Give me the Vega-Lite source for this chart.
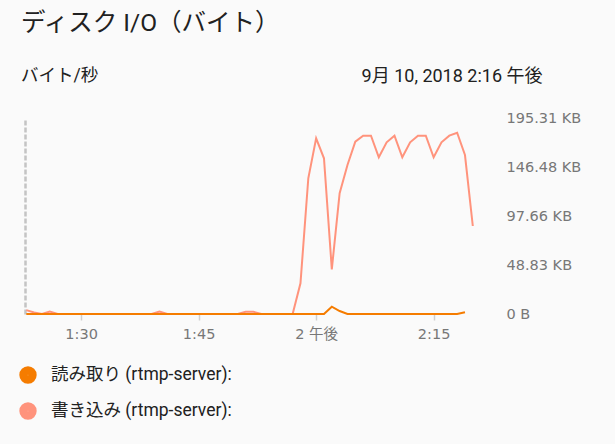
{
  "$schema": "https://vega.github.io/schema/vega-lite/v6.json",
  "width": 470,
  "height": 196,
  "autosize": "none",
  "padding": {"left": 25, "top": 118, "right": 120, "bottom": 130},
  "background": "#fafafa",
  "config": {
    "font": "Roboto, Noto Sans CJK JP",
    "view": {"stroke": null}
  },
  "title": {
    "text": "ディスク I/O（バイト）",
    "subtitle": "バイト/秒",
    "anchor": "start",
    "frame": "group",
    "dx": -4,
    "offset": -18,
    "fontSize": 24.5,
    "fontWeight": "normal",
    "color": "#212121",
    "subtitleFontSize": 17.5,
    "subtitleColor": "#212121",
    "subtitlePadding": 30
  },
  "data": {
    "values": [
      {"t": "2018-09-10T13:23:00", "s": "書き込み (rtmp-server):", "v": 4000},
      {"t": "2018-09-10T13:24:00", "s": "書き込み (rtmp-server):", "v": 1500},
      {"t": "2018-09-10T13:25:00", "s": "書き込み (rtmp-server):", "v": 0},
      {"t": "2018-09-10T13:26:00", "s": "書き込み (rtmp-server):", "v": 2500},
      {"t": "2018-09-10T13:27:00", "s": "書き込み (rtmp-server):", "v": 0},
      {"t": "2018-09-10T13:28:00", "s": "書き込み (rtmp-server):", "v": 0},
      {"t": "2018-09-10T13:29:00", "s": "書き込み (rtmp-server):", "v": 0},
      {"t": "2018-09-10T13:30:00", "s": "書き込み (rtmp-server):", "v": 0},
      {"t": "2018-09-10T13:31:00", "s": "書き込み (rtmp-server):", "v": 0},
      {"t": "2018-09-10T13:32:00", "s": "書き込み (rtmp-server):", "v": 0},
      {"t": "2018-09-10T13:33:00", "s": "書き込み (rtmp-server):", "v": 0},
      {"t": "2018-09-10T13:34:00", "s": "書き込み (rtmp-server):", "v": 0},
      {"t": "2018-09-10T13:35:00", "s": "書き込み (rtmp-server):", "v": 0},
      {"t": "2018-09-10T13:36:00", "s": "書き込み (rtmp-server):", "v": 0},
      {"t": "2018-09-10T13:37:00", "s": "書き込み (rtmp-server):", "v": 0},
      {"t": "2018-09-10T13:38:00", "s": "書き込み (rtmp-server):", "v": 0},
      {"t": "2018-09-10T13:39:00", "s": "書き込み (rtmp-server):", "v": 0},
      {"t": "2018-09-10T13:40:00", "s": "書き込み (rtmp-server):", "v": 2500},
      {"t": "2018-09-10T13:41:00", "s": "書き込み (rtmp-server):", "v": 0},
      {"t": "2018-09-10T13:42:00", "s": "書き込み (rtmp-server):", "v": 0},
      {"t": "2018-09-10T13:43:00", "s": "書き込み (rtmp-server):", "v": 0},
      {"t": "2018-09-10T13:44:00", "s": "書き込み (rtmp-server):", "v": 0},
      {"t": "2018-09-10T13:45:00", "s": "書き込み (rtmp-server):", "v": 0},
      {"t": "2018-09-10T13:46:00", "s": "書き込み (rtmp-server):", "v": 0},
      {"t": "2018-09-10T13:47:00", "s": "書き込み (rtmp-server):", "v": 0},
      {"t": "2018-09-10T13:48:00", "s": "書き込み (rtmp-server):", "v": 0},
      {"t": "2018-09-10T13:49:00", "s": "書き込み (rtmp-server):", "v": 0},
      {"t": "2018-09-10T13:50:00", "s": "書き込み (rtmp-server):", "v": 0},
      {"t": "2018-09-10T13:51:00", "s": "書き込み (rtmp-server):", "v": 2200},
      {"t": "2018-09-10T13:52:00", "s": "書き込み (rtmp-server):", "v": 2200},
      {"t": "2018-09-10T13:53:00", "s": "書き込み (rtmp-server):", "v": 0},
      {"t": "2018-09-10T13:54:00", "s": "書き込み (rtmp-server):", "v": 0},
      {"t": "2018-09-10T13:55:00", "s": "書き込み (rtmp-server):", "v": 0},
      {"t": "2018-09-10T13:56:00", "s": "書き込み (rtmp-server):", "v": 0},
      {"t": "2018-09-10T13:57:00", "s": "書き込み (rtmp-server):", "v": 0},
      {"t": "2018-09-10T13:58:00", "s": "書き込み (rtmp-server):", "v": 31300},
      {"t": "2018-09-10T13:59:00", "s": "書き込み (rtmp-server):", "v": 138500},
      {"t": "2018-09-10T14:00:00", "s": "書き込み (rtmp-server):", "v": 179300},
      {"t": "2018-09-10T14:01:00", "s": "書き込み (rtmp-server):", "v": 158900},
      {"t": "2018-09-10T14:02:00", "s": "書き込み (rtmp-server):", "v": 45600},
      {"t": "2018-09-10T14:03:00", "s": "書き込み (rtmp-server):", "v": 123200},
      {"t": "2018-09-10T14:04:00", "s": "書き込み (rtmp-server):", "v": 152000},
      {"t": "2018-09-10T14:05:00", "s": "書き込み (rtmp-server):", "v": 175800},
      {"t": "2018-09-10T14:06:00", "s": "書き込み (rtmp-server):", "v": 182000},
      {"t": "2018-09-10T14:07:00", "s": "書き込み (rtmp-server):", "v": 182000},
      {"t": "2018-09-10T14:08:00", "s": "書き込み (rtmp-server):", "v": 159900},
      {"t": "2018-09-10T14:09:00", "s": "書き込み (rtmp-server):", "v": 175200},
      {"t": "2018-09-10T14:10:00", "s": "書き込み (rtmp-server):", "v": 182000},
      {"t": "2018-09-10T14:11:00", "s": "書き込み (rtmp-server):", "v": 159900},
      {"t": "2018-09-10T14:12:00", "s": "書き込み (rtmp-server):", "v": 175200},
      {"t": "2018-09-10T14:13:00", "s": "書き込み (rtmp-server):", "v": 182000},
      {"t": "2018-09-10T14:14:00", "s": "書き込み (rtmp-server):", "v": 182000},
      {"t": "2018-09-10T14:15:00", "s": "書き込み (rtmp-server):", "v": 159900},
      {"t": "2018-09-10T14:16:00", "s": "書き込み (rtmp-server):", "v": 175200},
      {"t": "2018-09-10T14:17:00", "s": "書き込み (rtmp-server):", "v": 182000},
      {"t": "2018-09-10T14:18:00", "s": "書き込み (rtmp-server):", "v": 185000},
      {"t": "2018-09-10T14:19:00", "s": "書き込み (rtmp-server):", "v": 162200},
      {"t": "2018-09-10T14:20:00", "s": "書き込み (rtmp-server):", "v": 89800},
      {"t": "2018-09-10T13:23:00", "s": "読み取り (rtmp-server):", "v": 0},
      {"t": "2018-09-10T13:24:00", "s": "読み取り (rtmp-server):", "v": 0},
      {"t": "2018-09-10T13:25:00", "s": "読み取り (rtmp-server):", "v": 0},
      {"t": "2018-09-10T13:26:00", "s": "読み取り (rtmp-server):", "v": 0},
      {"t": "2018-09-10T13:27:00", "s": "読み取り (rtmp-server):", "v": 0},
      {"t": "2018-09-10T13:28:00", "s": "読み取り (rtmp-server):", "v": 0},
      {"t": "2018-09-10T13:29:00", "s": "読み取り (rtmp-server):", "v": 0},
      {"t": "2018-09-10T13:30:00", "s": "読み取り (rtmp-server):", "v": 0},
      {"t": "2018-09-10T13:31:00", "s": "読み取り (rtmp-server):", "v": 0},
      {"t": "2018-09-10T13:32:00", "s": "読み取り (rtmp-server):", "v": 0},
      {"t": "2018-09-10T13:33:00", "s": "読み取り (rtmp-server):", "v": 0},
      {"t": "2018-09-10T13:34:00", "s": "読み取り (rtmp-server):", "v": 0},
      {"t": "2018-09-10T13:35:00", "s": "読み取り (rtmp-server):", "v": 0},
      {"t": "2018-09-10T13:36:00", "s": "読み取り (rtmp-server):", "v": 0},
      {"t": "2018-09-10T13:37:00", "s": "読み取り (rtmp-server):", "v": 0},
      {"t": "2018-09-10T13:38:00", "s": "読み取り (rtmp-server):", "v": 0},
      {"t": "2018-09-10T13:39:00", "s": "読み取り (rtmp-server):", "v": 0},
      {"t": "2018-09-10T13:40:00", "s": "読み取り (rtmp-server):", "v": 0},
      {"t": "2018-09-10T13:41:00", "s": "読み取り (rtmp-server):", "v": 0},
      {"t": "2018-09-10T13:42:00", "s": "読み取り (rtmp-server):", "v": 0},
      {"t": "2018-09-10T13:43:00", "s": "読み取り (rtmp-server):", "v": 0},
      {"t": "2018-09-10T13:44:00", "s": "読み取り (rtmp-server):", "v": 0},
      {"t": "2018-09-10T13:45:00", "s": "読み取り (rtmp-server):", "v": 0},
      {"t": "2018-09-10T13:46:00", "s": "読み取り (rtmp-server):", "v": 0},
      {"t": "2018-09-10T13:47:00", "s": "読み取り (rtmp-server):", "v": 0},
      {"t": "2018-09-10T13:48:00", "s": "読み取り (rtmp-server):", "v": 0},
      {"t": "2018-09-10T13:49:00", "s": "読み取り (rtmp-server):", "v": 0},
      {"t": "2018-09-10T13:50:00", "s": "読み取り (rtmp-server):", "v": 0},
      {"t": "2018-09-10T13:51:00", "s": "読み取り (rtmp-server):", "v": 0},
      {"t": "2018-09-10T13:52:00", "s": "読み取り (rtmp-server):", "v": 0},
      {"t": "2018-09-10T13:53:00", "s": "読み取り (rtmp-server):", "v": 0},
      {"t": "2018-09-10T13:54:00", "s": "読み取り (rtmp-server):", "v": 0},
      {"t": "2018-09-10T13:55:00", "s": "読み取り (rtmp-server):", "v": 0},
      {"t": "2018-09-10T13:56:00", "s": "読み取り (rtmp-server):", "v": 0},
      {"t": "2018-09-10T13:57:00", "s": "読み取り (rtmp-server):", "v": 0},
      {"t": "2018-09-10T13:58:00", "s": "読み取り (rtmp-server):", "v": 0},
      {"t": "2018-09-10T13:59:00", "s": "読み取り (rtmp-server):", "v": 0},
      {"t": "2018-09-10T14:00:00", "s": "読み取り (rtmp-server):", "v": 0},
      {"t": "2018-09-10T14:01:00", "s": "読み取り (rtmp-server):", "v": 0},
      {"t": "2018-09-10T14:02:00", "s": "読み取り (rtmp-server):", "v": 7500},
      {"t": "2018-09-10T14:03:00", "s": "読み取り (rtmp-server):", "v": 3000},
      {"t": "2018-09-10T14:04:00", "s": "読み取り (rtmp-server):", "v": 0},
      {"t": "2018-09-10T14:05:00", "s": "読み取り (rtmp-server):", "v": 0},
      {"t": "2018-09-10T14:06:00", "s": "読み取り (rtmp-server):", "v": 0},
      {"t": "2018-09-10T14:07:00", "s": "読み取り (rtmp-server):", "v": 0},
      {"t": "2018-09-10T14:08:00", "s": "読み取り (rtmp-server):", "v": 0},
      {"t": "2018-09-10T14:09:00", "s": "読み取り (rtmp-server):", "v": 0},
      {"t": "2018-09-10T14:10:00", "s": "読み取り (rtmp-server):", "v": 0},
      {"t": "2018-09-10T14:11:00", "s": "読み取り (rtmp-server):", "v": 0},
      {"t": "2018-09-10T14:12:00", "s": "読み取り (rtmp-server):", "v": 0},
      {"t": "2018-09-10T14:13:00", "s": "読み取り (rtmp-server):", "v": 0},
      {"t": "2018-09-10T14:14:00", "s": "読み取り (rtmp-server):", "v": 0},
      {"t": "2018-09-10T14:15:00", "s": "読み取り (rtmp-server):", "v": 0},
      {"t": "2018-09-10T14:16:00", "s": "読み取り (rtmp-server):", "v": 0},
      {"t": "2018-09-10T14:17:00", "s": "読み取り (rtmp-server):", "v": 0},
      {"t": "2018-09-10T14:18:00", "s": "読み取り (rtmp-server):", "v": 0},
      {"t": "2018-09-10T14:19:00", "s": "読み取り (rtmp-server):", "v": 1800}
    ]
  },
  "encoding": {
    "x": {
      "field": "t",
      "type": "temporal",
      "title": null,
      "scale": {"domain": [
        {"year": 2018, "month": 9, "date": 10, "hours": 13, "minutes": 22, "seconds": 50},
        {"year": 2018, "month": 9, "date": 10, "hours": 14, "minutes": 22, "seconds": 50}
      ]},
      "axis": {
        "grid": false,
        "domain": false,
        "values": [
          {"year": 2018, "month": 9, "date": 10, "hours": 13, "minutes": 30},
          {"year": 2018, "month": 9, "date": 10, "hours": 13, "minutes": 45},
          {"year": 2018, "month": 9, "date": 10, "hours": 14, "minutes": 0},
          {"year": 2018, "month": 9, "date": 10, "hours": 14, "minutes": 15}
        ],
        "format": "%-I:%M",
        "tickColor": "#d0d0d0",
        "tickSize": 6,
        "tickWidth": 1.5,
        "labelColor": "#777777",
        "labelFont": "DejaVu Sans, Noto Sans CJK JP",
        "labelFontSize": 14.5,
        "labelPadding": 7,
        "labelExpr": "datum.label == '2:00' ? '2 午後' : datum.label"
      }
    },
    "y": {
      "field": "v",
      "type": "quantitative",
      "scale": {"domain": [0, 200000]}
    }
  },
  "layer": [
    {
      "mark": {"type": "line", "opacity": 0},
      "encoding": {
        "y": {
          "field": "v",
          "type": "quantitative",
          "axis": {
            "orient": "left",
            "title": null,
            "labels": false,
            "ticks": false,
            "grid": false,
            "domainColor": "#c4c4c4",
            "domainWidth": 2.5,
            "domainDash": [5, 2]
          }
        }
      }
    },
    {
      "mark": {"type": "line", "strokeWidth": 2},
      "encoding": {
        "y": {
          "field": "v",
          "type": "quantitative",
          "title": "9月 10, 2018 2:16 午後",
          "axis": {
            "orient": "right",
            "values": [0, 50000, 100000, 150000, 200000],
            "domain": false,
            "ticks": false,
            "gridColor": "#ebebeb",
            "gridWidth": 1.5,
            "labelColor": "#777777",
            "labelFont": "DejaVu Sans",
            "labelFontSize": 14.5,
            "labelPadding": 11,
            "labelExpr": "datum.value == 0 ? '0 B' : format(datum.value / 1024, '.2f') + ' KB'",
            "titleAngle": 0,
            "titleAlign": "right",
            "titleBaseline": "alphabetic",
            "titleX": 47,
            "titleY": -37,
            "titleFontSize": 18,
            "titleFontWeight": "normal",
            "titleColor": "#212121"
          }
        },
        "color": {
          "field": "s",
          "type": "nominal",
          "scale": {
            "domain": ["読み取り (rtmp-server):", "書き込み (rtmp-server):"],
            "range": ["#f57c00", "#ff937c"]
          },
          "legend": {
            "title": null,
            "orient": "none",
            "legendX": -6,
            "legendY": 248,
            "direction": "vertical",
            "symbolType": "circle",
            "symbolSize": 70,
            "symbolStrokeWidth": 9,
            "labelFontSize": 17.5,
            "labelColor": "#212121",
            "labelOffset": 14,
            "labelLimit": 400,
            "rowPadding": -10
          }
        }
      }
    }
  ],
  "resolve": {"axis": {"y": "independent"}}
}
